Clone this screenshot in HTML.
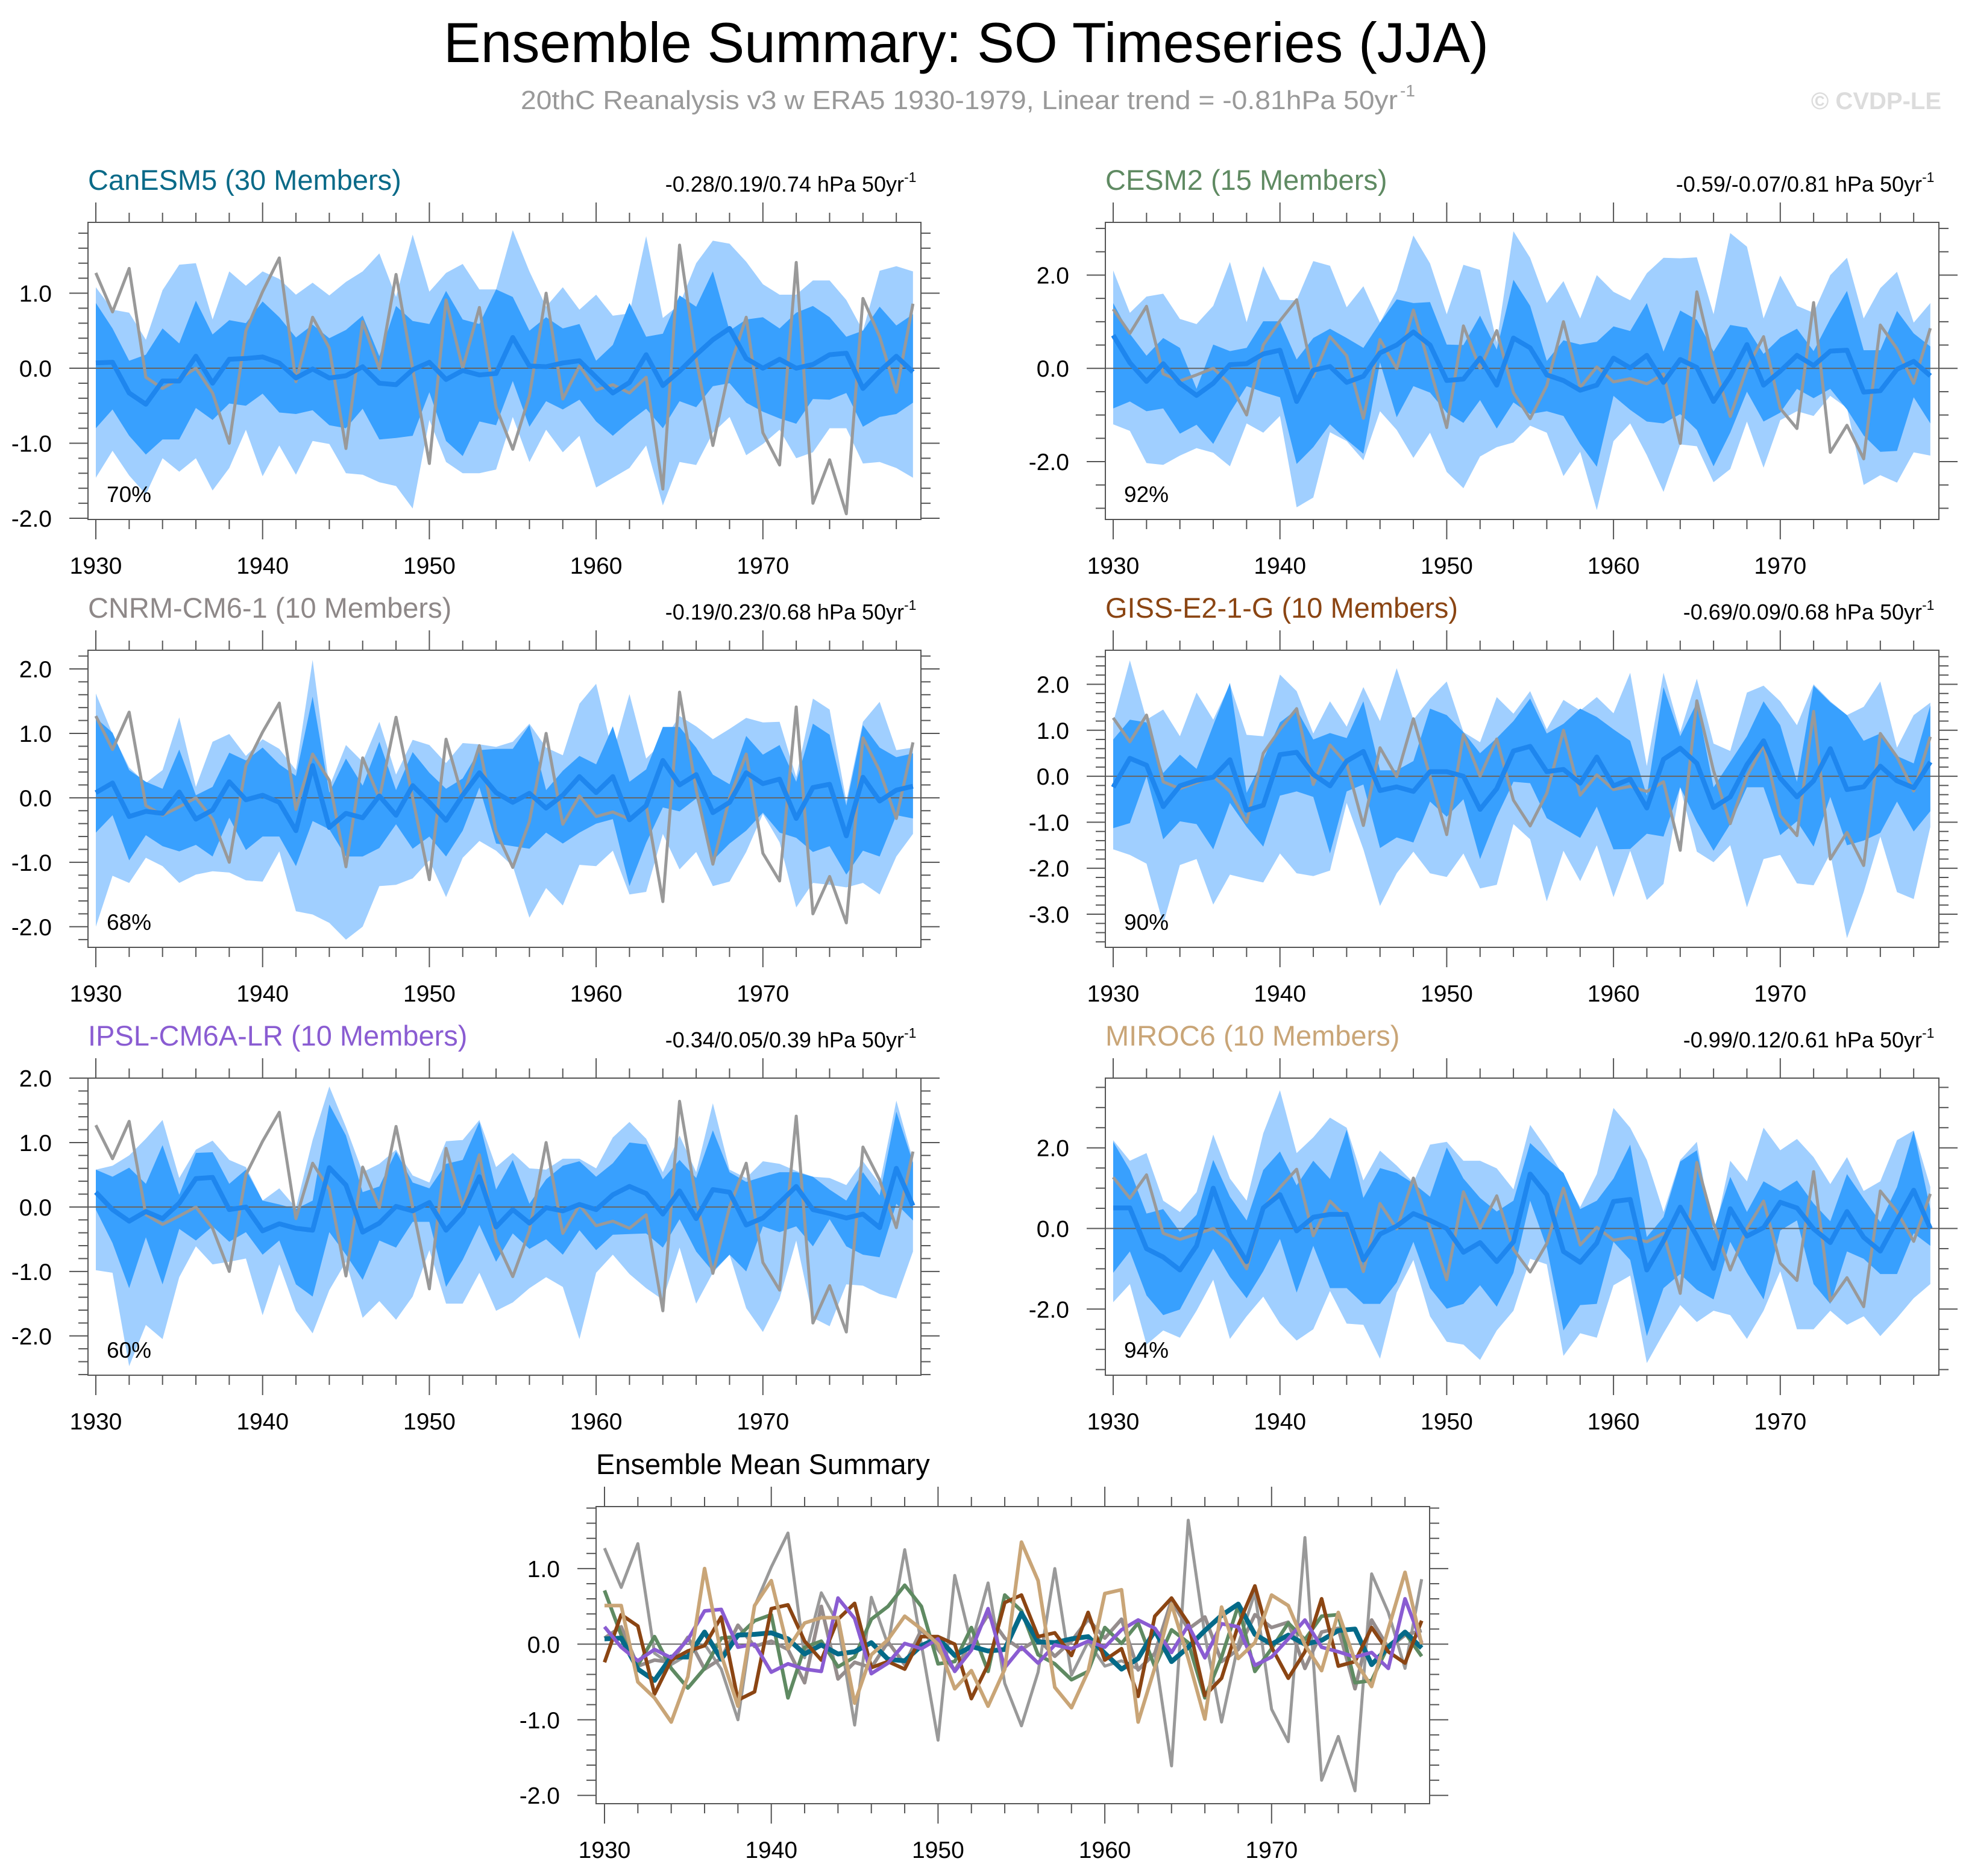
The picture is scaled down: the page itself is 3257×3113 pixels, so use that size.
<!DOCTYPE html>
<html><head><meta charset="utf-8">
<style>
html,body{margin:0;padding:0;background:#fff;}
svg{display:block;font-family:"Liberation Sans",Arial,sans-serif;}
</style></head>
<body>
<svg id="fig" xmlns="http://www.w3.org/2000/svg" width="3257" height="3113" viewBox="0 0 3257 3113">
<rect x="0" y="0" width="3257" height="3113" fill="#fff"/>
<text x="1603" y="103" font-size="94" text-anchor="middle" textLength="1734" lengthAdjust="spacingAndGlyphs" fill="#000">Ensemble Summary: SO Timeseries (JJA)</text>
<text x="864" y="181" font-size="44" textLength="1455" lengthAdjust="spacingAndGlyphs" fill="#999">20thC Reanalysis v3 w ERA5 1930-1979, Linear trend = -0.81hPa 50yr</text>
<text x="2323" y="160" font-size="28" fill="#999">-1</text>
<text x="3221" y="181" font-size="40" font-weight="bold" text-anchor="end" fill="#dcdcdc">© CVDP-LE</text>
</svg>
<script>
const years = [1930,1931,1932,1933,1934,1935,1936,1937,1938,1939,1940,1941,1942,1943,1944,1945,1946,1947,1948,1949,1950,1951,1952,1953,1954,1955,1956,1957,1958,1959,1960,1961,1962,1963,1964,1965,1966,1967,1968,1969,1970,1971,1972,1973,1974,1975,1976,1977,1978,1979];
const xTickLabels = ["1930","1940","1950","1960","1970"];
const obs = [1.27,0.75,1.33,-0.12,-0.27,-0.14,0.0,-0.33,-1.0,0.5,1.02,1.47,-0.18,0.68,0.27,-1.07,0.62,-0.01,1.25,0.0,-1.27,0.91,0.0,0.81,-0.52,-1.08,-0.37,1.0,-0.41,0.03,-0.29,-0.22,-0.33,-0.12,-1.61,1.64,0.12,-1.03,0.0,0.68,-0.86,-1.29,1.41,-1.8,-1.22,-1.94,0.93,0.42,-0.32,0.86];

const canMean = [0.07,0.08,-0.33,-0.48,-0.17,-0.17,0.16,-0.2,0.12,0.13,0.15,0.07,-0.13,-0.01,-0.13,-0.1,0.02,-0.2,-0.22,-0.02,0.08,-0.15,-0.03,-0.09,-0.07,0.41,0.03,0.02,0.07,0.1,-0.12,-0.33,-0.19,0.18,-0.23,-0.04,0.18,0.38,0.53,0.13,0.0,0.12,0.0,0.05,0.18,0.2,-0.27,-0.04,0.16,-0.05];
const canDarkHi = [0.87,0.53,0.1,0.18,0.53,0.33,0.9,0.45,0.64,0.6,0.89,0.68,0.41,0.58,0.4,0.51,0.7,0.16,0.83,0.63,0.59,1.03,0.65,0.59,1.05,0.95,0.5,0.68,0.53,0.59,0.1,0.31,0.87,0.42,0.46,0.97,0.82,1.29,0.5,0.65,0.68,0.53,0.74,0.83,0.68,0.42,0.5,0.82,0.57,0.72];
const canDarkLo = [-0.8,-0.55,-0.9,-1.15,-0.95,-0.95,-0.53,-0.69,-0.47,-0.5,-0.34,-0.59,-0.61,-0.56,-0.76,-0.8,-0.54,-0.95,-0.93,-0.9,-0.32,-0.97,-1.17,-0.71,-0.76,-0.17,-0.78,-0.44,-0.55,-0.42,-0.71,-0.9,-0.71,-0.54,-0.8,-0.44,-0.52,-0.24,-0.2,-0.46,-0.58,-0.67,-0.74,-0.41,-0.42,-0.33,-0.78,-0.65,-0.61,-0.46];
const canLightHi = [1.08,0.78,0.74,0.38,1.04,1.38,1.4,0.65,1.29,1.1,1.29,1.19,0.98,1.14,0.97,1.15,1.29,1.53,0.95,1.78,1.02,1.27,1.39,1.05,1.05,1.84,1.29,0.82,1.08,0.78,0.98,0.7,0.73,1.76,0.67,0.85,1.4,1.7,1.66,1.42,1.12,0.98,0.98,1.17,1.17,0.91,0.5,1.3,1.36,1.29];
const canLightLo = [-1.46,-1.1,-1.43,-1.68,-1.2,-1.38,-1.2,-1.63,-1.33,-0.82,-1.44,-1.03,-1.42,-0.97,-1.01,-1.4,-1.42,-1.52,-1.57,-1.87,-0.69,-1.25,-1.4,-1.4,-1.35,-0.65,-1.25,-0.82,-1.12,-0.9,-1.59,-1.46,-1.33,-1.03,-1.83,-1.25,-1.29,-0.86,-0.65,-1.16,-1.01,-0.82,-1.2,-1.12,-0.8,-0.8,-1.27,-1.25,-1.33,-1.46];

const cesmMean = [0.71,0.12,-0.28,0.1,-0.32,-0.58,-0.32,0.08,0.1,0.31,0.39,-0.71,-0.04,0.04,-0.3,-0.17,0.33,0.5,0.78,0.5,-0.26,-0.23,0.22,-0.36,0.65,0.44,-0.14,-0.26,-0.47,-0.36,0.22,0.01,0.28,-0.3,0.19,0.02,-0.71,-0.17,0.51,-0.36,-0.06,0.28,0.06,0.37,0.39,-0.51,-0.48,-0.02,0.15,-0.16];
const cesmDarkHi = [1.4,0.74,0.27,0.65,0.44,-0.44,0.51,0.37,0.44,1.01,1.01,0.19,0.65,0.85,0.65,0.44,0.98,1.48,1.4,1.42,0.51,0.5,1.13,0.4,1.9,1.34,0.16,0.6,0.51,0.57,0.9,0.8,1.4,0.36,1.24,1.04,0.36,0.93,0.87,0.31,0.66,0.85,0.37,1.06,1.66,0.39,0.39,1.23,0.75,0.47];
const cesmDarkLo = [-0.86,-0.71,-0.92,-0.86,-1.4,-1.21,-1.62,-0.95,-0.38,-0.51,-0.62,-2.05,-1.69,-1.2,-1.53,-1.83,0.13,-1.05,-0.38,-0.52,-0.95,-1.17,-0.68,-1.29,-0.73,-0.98,-0.92,-1.02,-1.62,-2.11,-0.59,-0.89,-1.14,-1.18,-0.98,-1.32,-2.1,-1.38,-0.5,-1.14,-0.95,-0.44,-0.64,-0.44,-0.88,-1.44,-1.79,-1.77,-0.62,-1.18];
const cesmLightHi = [2.1,1.19,1.54,1.6,1.06,0.95,1.34,2.28,0.99,2.19,1.47,1.46,2.3,2.2,1.31,1.76,0.98,1.67,2.85,2.25,1.16,2.22,2.11,0.56,2.94,2.37,1.4,1.87,1.07,2.0,1.64,1.46,2.04,2.37,2.36,2.38,1.16,2.9,2.61,1.07,1.99,1.34,1.19,2.0,2.37,1.07,1.72,2.07,0.98,1.4];
const cesmLightLo = [-1.2,-1.34,-2.03,-2.07,-1.87,-1.71,-1.81,-2.1,-1.18,-1.38,-1.02,-2.98,-2.77,-1.37,-1.56,-1.97,-0.92,-1.32,-1.92,-1.38,-2.22,-2.57,-1.89,-1.69,-1.59,-1.23,-1.38,-2.31,-1.79,-3.04,-1.56,-1.18,-1.86,-2.65,-1.63,-1.67,-2.44,-2.16,-1.14,-2.13,-1.11,-0.92,-1.02,-0.59,-0.85,-2.5,-2.29,-2.45,-1.8,-1.87];

const cnrmMean = [0.08,0.23,-0.29,-0.21,-0.24,0.09,-0.33,-0.19,0.25,-0.03,0.04,-0.07,-0.51,0.5,-0.46,-0.24,-0.31,0.03,-0.27,0.19,-0.07,-0.35,0.04,0.39,0.08,-0.07,0.07,-0.16,0.04,0.33,0.08,0.33,-0.34,-0.12,0.58,0.2,0.36,-0.23,-0.07,0.39,0.22,0.29,-0.32,0.16,0.21,-0.59,0.32,-0.05,0.12,0.18];
const cnrmDarkHi = [1.24,1.01,0.43,0.25,0.14,0.75,0.04,0.17,0.7,0.58,0.78,0.52,0.34,1.57,0.08,0.61,0.19,0.87,0.12,0.71,0.39,0.14,0.3,0.74,0.76,0.76,1.13,0.12,0.42,0.65,0.52,1.11,0.25,0.44,1.1,1.1,0.78,0.36,0.21,0.96,0.67,0.82,0.25,1.15,0.98,-0.12,1.13,0.78,0.63,0.69];
const cnrmDarkLo = [-0.54,-0.27,-0.97,-0.58,-0.75,-0.83,-0.73,-0.91,-0.31,-0.81,-0.6,-0.6,-1.06,-0.36,-0.49,-0.91,-0.91,-0.78,-0.41,-0.79,-0.6,-0.91,-0.51,0.16,-0.71,-0.75,-0.79,-0.54,-0.71,-0.54,-0.4,-0.33,-1.37,-0.7,-0.15,-0.21,-0.01,-0.97,-0.71,-0.51,-0.23,-0.54,-0.62,-0.84,-0.75,-1.19,-0.82,-0.91,-0.27,-0.32];
const cnrmLightHi = [1.62,0.99,0.47,0.23,0.43,1.25,0.17,0.87,0.99,0.65,0.91,0.76,0.43,2.14,0.17,0.82,0.56,1.18,0.36,0.9,0.82,0.54,0.85,0.83,0.79,0.87,1.15,0.78,0.66,1.46,1.77,0.69,1.61,0.61,0.87,1.27,1.11,0.91,1.07,1.24,1.17,1.18,0.32,1.54,1.37,-0.05,1.18,1.49,0.74,0.78];
const cnrmLightLo = [-2.0,-1.21,-1.32,-0.93,-1.06,-1.32,-1.19,-1.14,-1.16,-1.28,-1.3,-0.83,-1.76,-1.81,-1.94,-2.2,-2.0,-1.37,-1.35,-1.25,-0.97,-1.54,-0.93,-0.67,-0.82,-1.06,-1.86,-1.4,-1.67,-1.04,-1.06,-0.82,-1.5,-1.46,-0.56,-1.11,-0.84,-1.37,-1.3,-0.84,-0.25,-0.69,-1.7,-1.32,-1.35,-1.39,-1.32,-1.5,-0.91,-0.56];

const gissMean = [-0.24,0.39,0.24,-0.66,-0.21,-0.09,-0.02,0.36,-0.74,-0.63,0.47,0.52,0.04,-0.21,0.33,0.54,-0.31,-0.23,-0.33,0.1,0.1,0.0,-0.72,-0.27,0.55,0.65,0.1,0.15,-0.15,0.42,-0.21,-0.06,-0.69,0.37,0.61,0.28,-0.68,-0.45,0.25,0.77,-0.04,-0.45,-0.1,0.6,-0.29,-0.23,0.22,-0.1,-0.25,0.31];
const gissDarkHi = [0.8,1.23,1.17,0.07,0.47,0.16,1.11,2.03,-0.36,0.37,1.17,1.45,0.8,0.94,0.83,1.63,0.13,0.13,0.33,1.47,1.33,0.96,0.5,0.83,1.2,1.69,0.93,1.14,1.47,1.29,1.02,0.77,-0.42,1.94,0.87,1.6,-0.24,0.31,0.87,1.63,1.11,-0.12,1.97,1.61,1.33,0.77,0.93,0.44,0.28,1.54];
const gissDarkLo = [-1.13,-1.02,0.0,-1.37,-0.98,-1.04,-1.59,-0.58,-1.1,-1.53,-0.42,-0.33,-0.45,-1.68,-0.33,-0.18,-1.56,-1.33,-1.44,-0.55,-0.88,-0.5,-1.8,-0.88,-0.12,-0.15,-0.91,-1.13,-1.34,-0.66,-1.59,-1.58,-1.25,-1.31,-0.24,-0.99,-1.62,-1.04,-0.24,-0.24,-1.28,-0.98,-1.53,-0.45,-1.5,-1.4,-1.23,-0.55,-1.2,-0.76];
const gissLightHi = [1.17,2.52,1.23,1.45,0.87,1.82,1.23,2.0,0.9,0.87,2.21,1.85,0.93,1.63,1.08,1.94,1.2,2.35,1.23,1.69,2.06,0.96,0.74,1.72,1.36,1.85,1.02,1.66,1.43,1.72,1.37,2.25,0.22,2.25,0.96,2.12,0.71,0.55,1.82,1.97,1.63,1.11,2.0,1.63,1.33,1.51,2.06,0.62,1.33,1.6];
const gissLightLo = [-1.59,-1.71,-1.9,-3.21,-1.93,-1.8,-2.79,-2.14,-2.23,-2.31,-1.68,-2.11,-2.17,-2.05,-0.58,-1.59,-2.82,-2.11,-1.64,-2.11,-2.19,-1.68,-2.44,-2.36,-1.04,-1.37,-2.72,-1.62,-2.28,-1.5,-2.63,-1.62,-2.69,-2.34,-0.24,-1.64,-1.87,-1.5,-2.85,-1.8,-1.71,-2.33,-2.37,-1.68,-3.52,-2.52,-1.31,-2.52,-2.67,-1.1];

const ipslMean = [0.23,-0.04,-0.22,-0.07,-0.18,0.06,0.44,0.46,-0.04,0.0,-0.37,-0.26,-0.33,-0.36,0.61,0.34,-0.39,-0.25,0.01,-0.06,0.07,-0.36,-0.08,0.47,-0.31,-0.04,-0.25,-0.01,-0.06,0.04,-0.04,0.19,0.32,0.21,-0.11,0.25,-0.18,0.27,0.23,-0.28,-0.17,0.07,0.32,-0.04,-0.1,-0.17,-0.11,-0.32,0.6,0.02];
const ipslDarkHi = [0.58,0.47,0.61,0.36,0.96,0.19,0.84,0.85,0.36,0.58,0.1,0.04,-0.03,0.1,1.59,1.11,0.23,0.32,0.86,0.38,0.29,0.67,0.73,1.32,0.27,0.73,0.05,0.43,0.64,0.71,0.47,0.68,1.0,0.97,0.43,0.73,0.45,1.19,0.54,0.39,0.47,0.54,0.54,0.47,0.27,0.1,0.54,0.18,1.48,0.69];
const ipslDarkLo = [-0.04,-0.56,-1.26,-0.47,-1.2,-0.34,-0.52,-0.3,-0.54,-0.39,-0.74,-0.52,-1.2,-1.39,-0.39,-0.74,-1.13,-0.52,-0.63,-0.23,-0.23,-1.24,-0.82,-0.28,-0.85,-0.41,-0.65,-0.5,-0.74,-0.36,-0.67,-0.43,-0.42,-0.41,-0.63,-0.19,-0.69,-1.0,-0.74,-1.0,-0.3,-0.39,-0.3,-0.61,-0.19,-0.61,-0.74,-0.78,0.05,-0.21];
const ipslLightHi = [0.58,0.64,0.8,1.06,1.35,0.45,0.89,1.03,0.73,0.62,0.1,0.29,-0.01,1.04,1.87,1.24,0.54,0.67,0.89,0.49,0.38,1.02,1.04,1.35,0.62,0.84,0.6,0.58,0.75,0.75,0.6,1.08,1.32,1.06,0.54,1.11,0.54,1.61,0.58,0.45,0.71,0.67,0.56,0.47,0.45,0.34,0.71,0.36,1.65,0.73];
const ipslLightLo = [-0.98,-1.02,-2.47,-1.83,-2.05,-1.09,-0.61,-0.89,-0.85,-0.8,-1.68,-0.89,-1.61,-1.96,-1.29,-0.85,-1.72,-1.46,-1.75,-1.39,-0.67,-1.5,-1.5,-1.02,-1.61,-1.48,-1.26,-1.09,-1.24,-2.05,-1.02,-0.74,-1.04,-1.26,-1.44,-0.63,-1.5,-1.02,-0.74,-1.57,-1.94,-1.42,-0.52,-1.72,-1.85,-1.2,-1.22,-1.35,-1.42,-0.69];

const mirocMean = [0.51,0.51,-0.5,-0.71,-1.03,-0.43,1.0,-0.14,-0.82,0.51,0.84,-0.06,0.28,0.35,0.35,-0.78,-0.14,0.06,0.37,0.2,0.0,-0.59,-0.35,-0.82,-0.33,1.35,0.84,-0.57,-0.84,-0.36,0.67,0.72,-1.03,-0.31,0.53,-0.19,-0.99,0.49,-0.19,0.02,0.65,0.51,-0.01,-0.35,0.42,-0.22,-0.56,0.2,0.95,0.0];
const mirocDarkHi = [2.15,1.45,0.37,0.48,-0.08,0.34,1.7,0.79,0.2,1.45,1.91,1.07,1.68,1.23,2.45,0.76,1.5,1.38,1.12,0.79,2.01,1.24,0.76,0.42,0.69,2.12,1.73,1.38,0.48,0.69,1.24,2.08,-0.21,0.28,1.66,1.94,-0.05,1.28,0.41,1.17,0.93,1.19,0.62,0.18,1.35,0.74,0.16,1.03,2.42,0.48];
const mirocDarkLo = [-1.1,-0.57,-1.66,-2.15,-2.01,-1.24,-0.5,-1.2,-1.73,-1.06,-0.26,-1.59,-0.43,-1.48,-1.48,-1.87,-1.87,-1.34,-0.33,-1.48,-1.99,-1.87,-1.41,-1.94,-1.1,0.69,-0.47,-2.53,-1.9,-1.87,-0.33,-0.78,-2.67,-1.48,-1.13,-1.52,-1.76,-0.33,-1.1,-1.76,-0.05,0.2,-1.38,-1.87,-0.57,-0.75,-1.13,-1.13,-0.12,-0.43];
const mirocLightHi = [2.19,1.68,1.87,0.69,0.41,0.9,2.33,1.24,0.69,2.36,3.43,1.87,2.26,2.75,2.5,1.19,1.93,1.56,1.14,2.08,2.15,1.68,1.68,1.49,0.97,2.57,1.98,1.31,0.53,1.35,2.99,2.5,1.7,0.41,1.7,2.15,-0.22,1.68,1.17,2.5,1.94,2.22,1.77,1.1,1.77,0.93,1.17,2.19,2.43,1.03];
const mirocLightLo = [-1.83,-1.38,-2.88,-2.53,-2.71,-2.04,-1.27,-2.74,-2.18,-1.69,-2.36,-2.78,-2.5,-1.55,-2.36,-2.39,-3.23,-1.59,-0.78,-2.18,-2.81,-2.88,-3.26,-2.53,-2.04,-0.75,-0.89,-3.16,-2.6,-2.71,-1.41,-1.17,-3.34,-2.6,-1.9,-2.32,-2.04,-2.15,-2.74,-2.04,-1.06,-2.5,-2.5,-2.04,-2.39,-2.18,-2.67,-2.22,-1.73,-1.38];

const modelNames = ["CanESM5 (30 Members)","CESM2 (15 Members)","CNRM-CM6-1 (10 Members)","GISS-E2-1-G (10 Members)","IPSL-CM6A-LR (10 Members)","MIROC6 (10 Members)"];
const trendLabels = ["-0.28/0.19/0.74 hPa 50yr","-0.59/-0.07/0.81 hPa 50yr","-0.19/0.23/0.68 hPa 50yr","-0.69/0.09/0.68 hPa 50yr","-0.34/0.05/0.39 hPa 50yr","-0.99/0.12/0.61 hPa 50yr"];
const pctLabels = ["70%","92%","68%","90%","60%","94%"];

const NS = "http://www.w3.org/2000/svg";
const svg = document.getElementById('fig');
function mk(tag, attrs, parent){
  const e = document.createElementNS(NS, tag);
  for (const k in attrs) e.setAttribute(k, attrs[k]);
  (parent||svg).appendChild(e);
  return e;
}
const YEAR_W = 27.67, X0 = 13;

function drawAxes(g, c, X, Y, key){
  const L=c.x, R=c.x+c.w, T=c.y, B=c.y+c.h;
  for (let yr=1930; yr<=1978; yr+=2){
    const maj = (yr%10===0);
    const len = maj?33:16;
    const xx = X(yr);
    const t1 = mk('line',{x1:xx,x2:xx,y1:T,y2:T-len,stroke:'#555','stroke-width':2},g);
    
    
    const t2 = mk('line',{x1:xx,x2:xx,y1:B,y2:B+len,stroke:'#555','stroke-width':2},g);
    
    
  }
  xTickLabels.forEach(lab=>{
    const t = mk('text',{x:X(+lab),y:B+90,'font-size':39,'text-anchor':'middle',fill:'#000'},g);
    t.textContent = lab;
    
    
  });
  const start = Math.ceil((c.ymin-1e-9)/c.minor);
  for (let k=start; k*c.minor<=c.ymax+1e-9; k++){
    const v = +(k*c.minor).toFixed(3);
    const r = v/c.major;
    const maj = Math.abs(r-Math.round(r))<1e-6;
    const len = maj?31:16;
    const yy = Y(v);
    const a = mk('line',{x1:L,x2:L-len,y1:yy,y2:yy,stroke:'#555','stroke-width':2},g);
    
    
    const b = mk('line',{x1:R,x2:R+len,y1:yy,y2:yy,stroke:'#555','stroke-width':2},g);
    
    
    if (maj){
      const t = mk('text',{x:L-60,y:yy+14,'font-size':39,'text-anchor':'end',fill:'#000'},g);
      t.textContent = v.toFixed(1);
      
      
    }
  }
}

function lineD(arr, X, Y){ return arr.map((v,i)=>(i?'L':'M')+X(years[i]).toFixed(1)+','+Y(v).toFixed(1)).join(''); }
function bandD(hi, lo, X, Y){
  let d = hi.map((v,i)=>(i?'L':'M')+X(years[i]).toFixed(1)+','+Y(v).toFixed(1)).join('');
  for (let i=lo.length-1;i>=0;i--) d += 'L'+X(years[i]).toFixed(1)+','+Y(lo[i]).toFixed(1);
  return d+'Z';
}

function panel(c, idx){
  const key = c.key;
  const g = mk('g',{});
  
  
  const X = yr => c.x + X0 + (yr-1930)*YEAR_W;
  const Y = v => c.y + (c.ymax - v)/(c.ymax - c.ymin)*c.h;
  const cp = mk('clipPath',{id:'clip-'+key},g);
  mk('rect',{x:c.x,y:c.y,width:c.w,height:c.h},cp);
  const inner = mk('g',{'clip-path':'url(#clip-'+key+')'},g);
  
  
  const lb = mk('path',{d:bandD(c.lightHi,c.lightLo,X,Y),fill:'#a0cfff',stroke:'none'},inner);
  
  
  const db = mk('path',{d:bandD(c.darkHi,c.darkLo,X,Y),fill:'#38a0fe',stroke:'none'},inner);
  
  
  const z = mk('line',{x1:c.x,x2:c.x+c.w,y1:Y(0),y2:Y(0),stroke:'#666','stroke-width':2},inner);
  
  
  const ob = mk('path',{d:lineD(obs,X,Y),fill:'none',stroke:'#999','stroke-width':5,'stroke-linejoin':'round'},inner);
  
  
  const mn = mk('path',{d:lineD(c.mean,X,Y),fill:'none',stroke:'#1e86ee','stroke-width':8,'stroke-linejoin':'round'},inner);
  
  
  const box = mk('rect',{x:c.x,y:c.y,width:c.w,height:c.h,fill:'none',stroke:'#555','stroke-width':2},g);
  
  
  drawAxes(g,c,X,Y,key);
  const tt = mk('text',{x:c.x,y:c.y-54,'font-size':47,fill:c.color},g);
  tt.textContent = modelNames[idx];
  
  
  const tr = mk('text',{x:c.x+c.w-28,y:c.y-51,'font-size':36,'text-anchor':'end',fill:'#000'},g);
  tr.textContent = trendLabels[idx];
  
  
  const sp = mk('text',{x:c.x+c.w-28,y:c.y-67,'font-size':23,fill:'#000'},g);
  sp.textContent = '-1';
  
  
  const pc = mk('text',{x:c.x+31,y:c.y+c.h-29,'font-size':37,fill:'#000'},g);
  pc.textContent = pctLabels[idx];
  
  
}

const panels = [
 {key:'canesm5',x:146,y:369,w:1382,h:493,ymin:-2.016,ymax:1.944,major:1,minor:0.2,color:'#0a6a88',mean:canMean,darkHi:canDarkHi,darkLo:canDarkLo,lightHi:canLightHi,lightLo:canLightLo},
 {key:'cesm2',x:1834,y:369,w:1383,h:493,ymin:-3.24,ymax:3.13,major:2,minor:0.5,color:'#5f8a62',mean:cesmMean,darkHi:cesmDarkHi,darkLo:cesmDarkLo,lightHi:cesmLightHi,lightLo:cesmLightLo},
 {key:'cnrm-cm6-1',x:146,y:1079,w:1382,h:493,ymin:-2.32,ymax:2.29,major:1,minor:0.2,color:'#8e8888',mean:cnrmMean,darkHi:cnrmDarkHi,darkLo:cnrmDarkLo,lightHi:cnrmLightHi,lightLo:cnrmLightLo},
 {key:'giss-e2-1-g',x:1834,y:1079,w:1383,h:493,ymin:-3.72,ymax:2.74,major:1,minor:0.2,color:'#8b4513',mean:gissMean,darkHi:gissDarkHi,darkLo:gissDarkLo,lightHi:gissLightHi,lightLo:gissLightLo},
 {key:'ipsl-cm6a-lr',x:146,y:1789,w:1382,h:493,ymin:-2.61,ymax:2.0,major:1,minor:0.2,color:'#8a5cd2',mean:ipslMean,darkHi:ipslDarkHi,darkLo:ipslDarkLo,lightHi:ipslLightHi,lightLo:ipslLightLo},
 {key:'miroc6',x:1834,y:1789,w:1383,h:493,ymin:-3.64,ymax:3.73,major:2,minor:0.5,color:'#c9a577',mean:mirocMean,darkHi:mirocDarkHi,darkLo:mirocDarkLo,lightHi:mirocLightHi,lightLo:mirocLightLo}
];
panels.forEach((c,i)=>panel(c,i));

(function(){
  const c = {key:'ensemble-mean-summary',x:989,y:2500,w:1383,h:493,ymin:-2.11,ymax:1.82,major:1,minor:0.2};
  const X = yr => c.x + 14 + (yr-1930)*YEAR_W;
  const Y = v => c.y + (c.ymax - v)/(c.ymax - c.ymin)*c.h;
  const g = mk('g',{});
  
  
  const cp = mk('clipPath',{id:'clip-ems'},g);
  mk('rect',{x:c.x,y:c.y,width:c.w,height:c.h},cp);
  const inner = mk('g',{'clip-path':'url(#clip-ems)'},g);
  const z = mk('line',{x1:c.x,x2:c.x+c.w,y1:Y(0),y2:Y(0),stroke:'#666','stroke-width':2},inner);
  
  
  const series = [
    {arr:obs,col:'#999999',w:5,name:'summary-observed-line'},
    {arr:cnrmMean,col:'#958d8d',w:6,name:'summary-cnrm-cm6-1-line'},
    {arr:cesmMean,col:'#5f8a62',w:6,name:'summary-cesm2-line'},
    {arr:canMean,col:'#046a88',w:8,name:'summary-canesm5-line'},
    {arr:gissMean,col:'#8b4513',w:6,name:'summary-giss-e2-1-g-line'},
    {arr:ipslMean,col:'#8a5cd2',w:6,name:'summary-ipsl-cm6a-lr-line'},
    {arr:mirocMean,col:'#c9a577',w:6,name:'summary-miroc6-line'}
  ];
  series.forEach(s=>{
    const p = mk('path',{d:lineD(s.arr,X,Y),fill:'none',stroke:s.col,'stroke-width':s.w,'stroke-linejoin':'round'},inner);
    
    
  });
  const box = mk('rect',{x:c.x,y:c.y,width:c.w,height:c.h,fill:'none',stroke:'#555','stroke-width':2},g);
  
  
  drawAxes(g,c,X,Y,'summary');
  const tt = mk('text',{x:c.x,y:c.y-54,'font-size':47,fill:'#000'},g);
  tt.textContent = 'Ensemble Mean Summary';
  
  
})();
</script>
</body></html>
